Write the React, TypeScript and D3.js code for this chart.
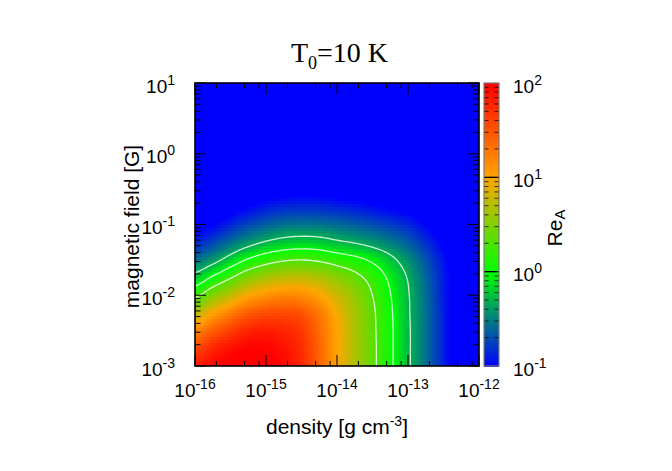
import React, { useMemo } from "react";
import * as d3 from "d3";

// grid coordinates (log10 of density in g cm^-3, log10 of field in G)
const densityLog = [-16, -15.75, -15.5, -15.25, -15, -14.75, -14.5, -14.25, -14, -13.75, -13.5, -13.25, -13, -12.75, -12.5, -12.25, -12];
const fieldLog = [-3, -2.75, -2.5, -2.25, -2, -1.75, -1.5, -1.25, -1, -0.75, -0.5, -0.25, 0, 0.25, 0.5, 0.75, 1];

const logReA = [
  [1.84, 1.98, 2.06, 2.10, 2.05, 1.95, 1.76, 1.42, 1.02, 0.68, 0.37, 0.05, -0.26, -0.57, -0.88, -1.15, -1.40],
  [1.57, 1.78, 1.91, 2.00, 1.98, 1.90, 1.73, 1.40, 1.01, 0.68, 0.37, 0.05, -0.26, -0.57, -0.88, -1.15, -1.40],
  [1.19, 1.44, 1.63, 1.78, 1.83, 1.78, 1.66, 1.36, 1.00, 0.67, 0.36, 0.05, -0.26, -0.57, -0.88, -1.15, -1.40],
  [0.73, 1.01, 1.23, 1.44, 1.53, 1.55, 1.50, 1.27, 0.95, 0.64, 0.35, 0.04, -0.27, -0.57, -0.88, -1.15, -1.40],
  [0.24, 0.53, 0.77, 1.00, 1.13, 1.19, 1.16, 1.03, 0.80, 0.57, 0.30, 0.01, -0.28, -0.58, -0.89, -1.15, -1.41],
  [-0.20, 0.04, 0.28, 0.52, 0.66, 0.75, 0.76, 0.69, 0.55, 0.39, 0.19, -0.06, -0.32, -0.61, -0.90, -1.16, -1.41],
  [-0.55, -0.40, -0.18, 0.03, 0.18, 0.27, 0.30, 0.26, 0.17, 0.08, -0.05, -0.23, -0.44, -0.68, -0.94, -1.19, -1.42],
  [-0.85, -0.72, -0.55, -0.40, -0.28, -0.20, -0.17, -0.19, -0.26, -0.32, -0.40, -0.50, -0.63, -0.82, -1.03, -1.25, -1.46],
  [-1.10, -1.00, -0.85, -0.72, -0.62, -0.55, -0.53, -0.54, -0.58, -0.63, -0.69, -0.76, -0.85, -1.00, -1.18, -1.38, -1.5],
  [-1.35, -1.25, -1.10, -1.00, -0.90, -0.85, -0.83, -0.84, -0.87, -0.91, -0.96, -1.02, -1.08, -1.20, -1.35, -1.5, -1.5],
  [-1.5, -1.45, -1.35, -1.25, -1.15, -1.10, -1.08, -1.09, -1.12, -1.16, -1.20, -1.26, -1.30, -1.40, -1.5, -1.5, -1.5],
  [-1.5, -1.5, -1.5, -1.45, -1.38, -1.33, -1.30, -1.32, -1.35, -1.40, -1.45, -1.5, -1.5, -1.5, -1.5, -1.5, -1.5],
  [-1.5, -1.5, -1.5, -1.5, -1.5, -1.5, -1.5, -1.5, -1.5, -1.5, -1.5, -1.5, -1.5, -1.5, -1.5, -1.5, -1.5],
  [-1.5, -1.5, -1.5, -1.5, -1.5, -1.5, -1.5, -1.5, -1.5, -1.5, -1.5, -1.5, -1.5, -1.5, -1.5, -1.5, -1.5],
  [-1.5, -1.5, -1.5, -1.5, -1.5, -1.5, -1.5, -1.5, -1.5, -1.5, -1.5, -1.5, -1.5, -1.5, -1.5, -1.5, -1.5],
  [-1.5, -1.5, -1.5, -1.5, -1.5, -1.5, -1.5, -1.5, -1.5, -1.5, -1.5, -1.5, -1.5, -1.5, -1.5, -1.5, -1.5],
  [-1.5, -1.5, -1.5, -1.5, -1.5, -1.5, -1.5, -1.5, -1.5, -1.5, -1.5, -1.5, -1.5, -1.5, -1.5, -1.5, -1.5],
];

const densityTicks = [1e-16, 1e-15, 1e-14, 1e-13, 1e-12];
const densityMinor = [2, 5, 8];
const fieldTicks = [1e-3, 1e-2, 1e-1, 1, 10];
const fieldMinor = [2, 3, 4, 5, 6, 7, 8, 9];
const colorTicks = [0.1, 1, 10, 100];
const contourLevels = [0.5, 1, 2];
const paletteLevels = [0.1, 1, 10, 100];
const paletteColors = ["#0000ff", "#00ff00", "#ffa500", "#ff0000"];

const W = 672, H = 471;
const PL = 195, PR = 479, PT = 83, PB = 366;
const CBL = 484, CBR = 499;
const SANS = "'Liberation Sans', Arial, Helvetica, sans-serif";
const SERIF = "'Liberation Serif', 'Times New Roman', serif";

const clampN = (v: number, a: number, b: number) => Math.max(a, Math.min(b, v));
function cr(p0: number, p1: number, p2: number, p3: number, t: number) {
  return 0.5 * (2 * p1 + (-p0 + p2) * t + (2 * p0 - 5 * p1 + 4 * p2 - p3) * t * t + (-p0 + 3 * p1 - 3 * p2 + p3) * t * t * t);
}
const gx = d3.scaleLinear().domain([densityLog[0], densityLog[densityLog.length - 1]]).range([0, densityLog.length - 1]);
const gy = d3.scaleLinear().domain([fieldLog[0], fieldLog[fieldLog.length - 1]]).range([0, fieldLog.length - 1]);
function sampleAt(lx: number, ly: number) {
  const nx = densityLog.length, ny = fieldLog.length;
  const fx = clampN(gx(lx), 0, nx - 1), fy = clampN(gy(ly), 0, ny - 1);
  const ix = Math.min(nx - 2, Math.floor(fx)), iy = Math.min(ny - 2, Math.floor(fy));
  const tx = fx - ix, ty = fy - iy;
  const g = (i: number, j: number) => logReA[clampN(j, 0, ny - 1)][clampN(i, 0, nx - 1)];
  const rows = [-1, 0, 1, 2].map((dj) => cr(g(ix - 1, iy + dj), g(ix, iy + dj), g(ix + 1, iy + dj), g(ix + 2, iy + dj), tx));
  return cr(rows[0], rows[1], rows[2], rows[3], ty);
}

const expOf = (v: number) => String(Math.round(Math.log10(v)));

export default function App() {
  const x = d3.scaleLog().domain([1e-16, 1e-12]).range([PL, PR]);
  const y = d3.scaleLog().domain([1e-3, 1e1]).range([PB, PT]);
  const cy = d3.scaleLog().domain([0.1, 100]).range([PB, PT]);
  const color = d3.scaleLog<string>().domain(paletteLevels).range(paletteColors).interpolate(d3.interpolateRgb).clamp(true);

  const cells = useMemo(() => {
    const N = 96;
    const out: { x: number; y: number; w: number; h: number; c: string }[] = [];
    const [lx0, lx1] = [Math.log10(x.domain()[0]), Math.log10(x.domain()[1])];
    const [ly0, ly1] = [Math.log10(y.domain()[0]), Math.log10(y.domain()[1])];
    for (let j = 0; j < N; j++) {
      const ya = ly0 + ((ly1 - ly0) * j) / N, yb = ly0 + ((ly1 - ly0) * (j + 1)) / N;
      for (let i = 0; i < N; i++) {
        const xa = lx0 + ((lx1 - lx0) * i) / N, xb = lx0 + ((lx1 - lx0) * (i + 1)) / N;
        const v = sampleAt((xa + xb) / 2, (ya + yb) / 2);
        const px0 = x(10 ** xa), px1 = x(10 ** xb), py0 = y(10 ** yb), py1 = y(10 ** ya);
        out.push({ x: px0, y: py0, w: px1 - px0 + 0.5, h: py1 - py0 + 0.5, c: color(10 ** v) });
      }
    }
    return out;
  }, []);

  const contourPaths = useMemo(() => {
    const M = 165, n = 160, pad = 2;
    const [lx0, lx1] = [Math.log10(x.domain()[0]), Math.log10(x.domain()[1])];
    const [ly0, ly1] = [Math.log10(y.domain()[0]), Math.log10(y.domain()[1])];
    const hx = (lx1 - lx0) / n, hy = (ly1 - ly0) / n;
    const vals = new Array(M * M);
    for (let r = 0; r < M; r++) {
      const ly = ly1 - (r - pad) * hy;
      for (let c = 0; c < M; c++) {
        const lx = lx0 + (c - pad) * hx;
        vals[r * M + c] = sampleAt(lx, ly);
      }
    }
    const cs = d3.contours().size([M, M]).thresholds(contourLevels.map(Math.log10))(vals);
    const proj = d3.geoTransform({
      point(px: number, py: number) {
        const lx = lx0 + (px - 0.5 - pad) * hx;
        const ly = ly1 - (py - 0.5 - pad) * hy;
        (this as any).stream.point(x(10 ** lx), y(10 ** ly));
      },
    });
    const path = d3.geoPath(proj);
    return cs.map((g) => path(g as any) || "");
  }, []);

  const cbBins = useMemo(() => {
    const N = 200;
    const out: { y: number; h: number; c: string }[] = [];
    for (let k = 0; k < N; k++) {
      const a = -1 + (3 * k) / N, b = -1 + (3 * (k + 1)) / N;
      out.push({ y: cy(10 ** b), h: cy(10 ** a) - cy(10 ** b) + 0.5, c: color(10 ** ((a + b) / 2)) });
    }
    return out;
  }, []);

  const xMinorTicks = densityTicks.slice(0, -1).flatMap((d) => densityMinor.map((m) => d * m));
  const yMinorTicks = fieldTicks.slice(0, -1).flatMap((d) => fieldMinor.map((m) => d * m));
  const cMinorTicks = colorTicks.slice(0, -1).flatMap((d) => fieldMinor.map((m) => d * m));

  return (
    <svg width={W} height={H} style={{ position: "absolute", left: 0, top: 0, background: "#fff" }}>
      <defs>
        <clipPath id="plotClip">
          <rect x={PL} y={PT} width={PR - PL} height={PB - PT} />
        </clipPath>
      </defs>
      <g clipPath="url(#plotClip)">
        {cells.map((c, k) => (
          <rect key={k} x={c.x} y={c.y} width={c.w} height={c.h} fill={c.c} shapeRendering="crispEdges" />
        ))}
        {contourPaths.map((d, k) => (
          <path key={k} d={d} fill="none" stroke="#ffffff" strokeOpacity={0.8} strokeWidth={1.3} />
        ))}
      </g>
      {/* axis ticks */}
      <g stroke="#000" strokeWidth={1}>
        {densityTicks.map((t) => (
          <g key={"xM" + t}>
            <line x1={x(t)} x2={x(t)} y1={PB} y2={PB - 11} />
            <line x1={x(t)} x2={x(t)} y1={PT} y2={PT + 11} />
          </g>
        ))}
        {xMinorTicks.map((t) => (
          <g key={"xm" + t}>
            <line x1={x(t)} x2={x(t)} y1={PB} y2={PB - 5} />
            <line x1={x(t)} x2={x(t)} y1={PT} y2={PT + 5} />
          </g>
        ))}
        {fieldTicks.map((t) => (
          <g key={"yM" + t}>
            <line x1={PL} x2={PL + 11} y1={y(t)} y2={y(t)} />
            <line x1={PR} x2={PR - 11} y1={y(t)} y2={y(t)} />
          </g>
        ))}
        {yMinorTicks.map((t) => (
          <g key={"ym" + t}>
            <line x1={PL} x2={PL + 5.5} y1={y(t)} y2={y(t)} />
            <line x1={PR} x2={PR - 5.5} y1={y(t)} y2={y(t)} />
          </g>
        ))}
      </g>
      <rect x={PL} y={PT} width={PR - PL} height={PB - PT} fill="none" stroke="#000" strokeWidth={1.6} />

      {/* colorbar */}
      {cbBins.map((b, k) => (
        <rect key={"cb" + k} x={CBL} y={b.y} width={CBR - CBL} height={b.h} fill={b.c} shapeRendering="crispEdges" />
      ))}
      <g stroke="#000" strokeWidth={1}>
        {colorTicks.slice(1, -1).map((t) => (
          <line key={"cM" + t} x1={CBL} x2={CBR} y1={cy(t)} y2={cy(t)} strokeWidth={1.3} />
        ))}
        {cMinorTicks.map((t) => (
          <g key={"cm" + t} strokeOpacity={0.75}>
            <line x1={CBL} x2={CBL + 4.5} y1={cy(t)} y2={cy(t)} />
            <line x1={CBR} x2={CBR - 4.5} y1={cy(t)} y2={cy(t)} />
          </g>
        ))}
      </g>
      <rect x={CBL} y={PT} width={CBR - CBL} height={PB - PT} fill="none" stroke="#7a7a7a" strokeWidth={1.2} />

      {/* tick labels */}
      <g fontFamily={SANS} fill="#000">
        {densityTicks.map((t) => (
          <text key={"xl" + t} x={x(t)} y={397} textAnchor="middle" fontSize={19}>
            10<tspan dy={-8} fontSize={14}>{expOf(t)}</tspan>
          </text>
        ))}
        {fieldTicks.map((t) => (
          <text key={"yl" + t} x={175} y={y(t) + 9.5} textAnchor="end" fontSize={19}>
            10<tspan dy={-8} fontSize={14}>{expOf(t)}</tspan>
          </text>
        ))}
        {colorTicks.map((t) => (
          <text key={"cl" + t} x={513} y={cy(t) + 9.5} textAnchor="start" fontSize={19}>
            10<tspan dy={-8} fontSize={14}>{expOf(t)}</tspan>
          </text>
        ))}
        <text x={(PL + PR) / 2} y={434} textAnchor="middle" fontSize={21}>
          density [g cm<tspan dy={-8} fontSize={14}>-3</tspan><tspan dy={8}>]</tspan>
        </text>
        <text transform={`translate(139,${(PT + PB) / 2 + 2}) rotate(-90)`} textAnchor="middle" fontSize={21}>
          magnetic field [G]
        </text>
        <text transform={`translate(562,228) rotate(-90)`} textAnchor="middle" fontSize={21}>
          Re<tspan dy={3} fontSize={15}>A</tspan>
        </text>
      </g>
      <text x={388} y={62} textAnchor="end" fontFamily={SERIF} fontSize={28} fill="#000">
        T<tspan dy={7} fontSize={18}>0</tspan><tspan dy={-7}>=10 K</tspan>
      </text>
    </svg>
  );
}
